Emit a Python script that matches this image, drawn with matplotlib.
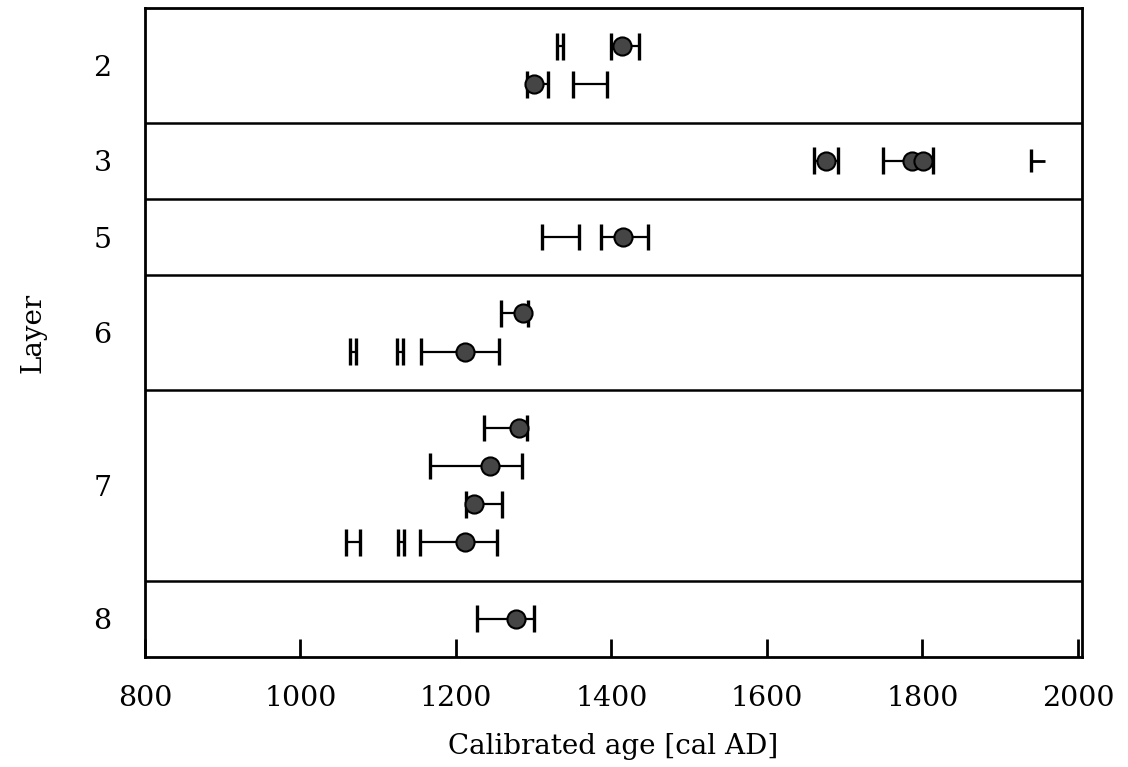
import numpy as np
from matplotlib import pyplot as plt

# layer labels and their vertical positions (row units, 0 at top)
layer_names = ['2', '3', '5', '6', '7', '8']
layer_pos = [1.5, 4, 6, 8.5, 12.5, 16]
separators = [3, 5, 7, 10, 15]

# calibrated age intervals: row, start, end
int_row = [1, 1, 2, 2, 4, 4, 6, 6, 8, 9, 9, 9, 11, 12, 13, 14, 14, 14, 16]
int_lo = [1330, 1400, 1291, 1351, 1660, 1749, 1311, 1387, 1258, 1064, 1124, 1155,
          1236, 1167, 1213, 1058, 1125, 1154, 1227]
int_hi = [1338, 1435, 1318, 1394, 1692, 1814, 1358, 1447, 1293, 1072, 1132, 1256,
          1291, 1285, 1259, 1076, 1133, 1253, 1300]

# open-ended interval in layer 3 (left cap only)
open_row = [4]
open_lo = [1940]
open_hi = [1958]

# dated points
dot_row = [1, 2, 4, 4, 4, 6, 8, 9, 11, 12, 13, 14, 16]
dot_x = [1413, 1301, 1676, 1787, 1801, 1415, 1286, 1212, 1281, 1244, 1223, 1212, 1277]

xticks = [800, 1000, 1200, 1400, 1600, 1800, 2000]

plt.rcParams['font.family'] = 'DejaVu Serif'

fig = plt.figure(figsize=(11.28, 7.67), dpi=100)
ax = fig.add_axes([0.1285, 0.1434, 0.8305, 0.8462])

cap = 0.35
ax.hlines(int_row, int_lo, int_hi, color='black', lw=1.6)
ax.vlines(int_lo, np.array(int_row) - cap, np.array(int_row) + cap, color='black', lw=2.4)
ax.vlines(int_hi, np.array(int_row) - cap, np.array(int_row) + cap, color='black', lw=2.4)
ax.hlines(open_row, open_lo, open_hi, color='black', lw=2.0)
ax.vlines(open_lo, np.array(open_row) - cap * 0.85, np.array(open_row) + cap * 0.85,
          color='black', lw=2.4)

ax.scatter(dot_x, dot_row, s=170, color='#454545', edgecolor='black', lw=1.5, zorder=3)

for y in separators:
    ax.axhline(y, color='black', lw=1.8)

ax.set_xlim(800, 2005)
ax.set_ylim(17, 0)
ax.set_xticks(xticks)
ax.set_xticklabels([str(t) for t in xticks])
ax.set_yticks(layer_pos)
ax.set_yticklabels(layer_names)
ax.tick_params(axis='x', direction='in', length=13, width=2, labelsize=20.5, pad=20)
ax.tick_params(axis='y', length=0, labelsize=20.5, pad=24)
for s in ax.spines.values():
    s.set_linewidth(2)

ax.set_xlabel('Calibrated age [cal AD]', fontsize=20, labelpad=15)
ax.set_ylabel('Layer', fontsize=20, labelpad=34)

plt.savefig('out.png', dpi=100)
